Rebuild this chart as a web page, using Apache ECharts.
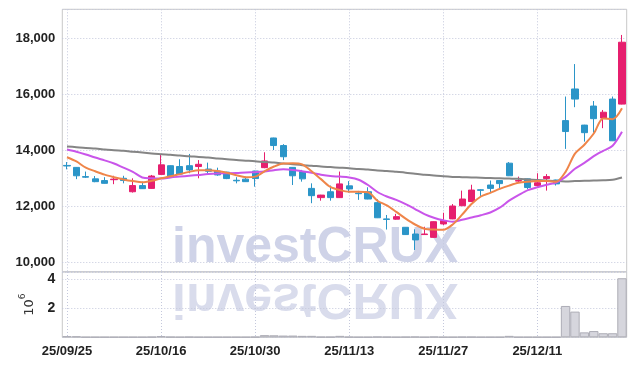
<!DOCTYPE html>
<html><head><meta charset="utf-8">
<script src="https://cdn.jsdelivr.net/npm/echarts@6/dist/echarts.min.js"></script>
<style>html,body{margin:0;padding:0;background:#fff}#c{width:635px;height:366px}</style>
</head><body><div id="c"></div>
<script>
const dates = ['25/09/25','25/09/26','25/09/29','25/09/30','25/10/01','25/10/02','25/10/10','25/10/13','25/10/14','25/10/15',
  '25/10/16','25/10/17','25/10/20','25/10/21','25/10/22','25/10/23','25/10/24','25/10/27','25/10/28','25/10/29',
  '25/10/30','25/10/31','25/11/03','25/11/04','25/11/05','25/11/06','25/11/07','25/11/10','25/11/11','25/11/12',
  '25/11/13','25/11/14','25/11/17','25/11/18','25/11/19','25/11/20','25/11/21','25/11/24','25/11/25','25/11/26',
  '25/11/27','25/11/28','25/12/01','25/12/02','25/12/03','25/12/04','25/12/05','25/12/08','25/12/09','25/12/10',
  '25/12/11','25/12/12','25/12/15','25/12/16','25/12/17','25/12/18','25/12/19','25/12/22','25/12/23','25/12/24'];
const opens = [13460,13390,13060,12980,12920,12950,13000,12520,12740,12640,
  13140,13450,13420,13450,13420,13330,13260,13220,12930,12970,
  13260,13380,14440,14170,13390,13240,12640,12310,12520,12310,
  12730,12470,12520,12130,11550,11540,11250,11010,10990,10890,
  11370,11550,12020,12170,12590,12760,12920,13540,12900,12980,
  12740,12990,12940,15060,16190,14900,15580,15150,15830,15650];
const closes = [13440,13090,13040,12880,12820,12970,12920,12740,12630,13080,
  13480,13040,13150,13300,13500,13250,13120,12990,12910,12880,
  12990,13620,14170,13770,13090,12980,12380,12400,12310,12800,
  12620,12450,12260,11590,11530,11630,10990,10800,11010,11450,
  11490,12010,12260,12580,12570,12640,12810,13090,12920,12670,
  12840,13060,12800,14670,15830,14630,15130,15360,14340,17860];
const lows = [13320,12970,13010,12860,12810,12790,12820,12490,12620,12630,
  13120,13030,13120,13180,13000,13120,13090,12970,12820,12870,
  12700,13360,14010,13650,12760,12880,12110,12200,12200,12300,
  12490,12230,12250,11580,11170,11520,10980,10440,10980,10880,
  11330,11540,12010,12160,12370,12500,12640,13080,12860,12610,
  12700,12560,12740,14050,15540,14310,14630,14790,14330,15640];
const highs = [13580,13400,13240,13080,13040,13090,13090,13000,12880,13120,
  13830,13460,13680,13870,13650,13560,13380,13230,13040,13060,
  13270,13930,14450,14220,13400,13300,12820,12410,12740,13240,
  12900,12550,12680,12250,11690,11730,11260,11180,11270,11460,
  11770,12080,12560,12770,12610,12920,12940,13580,13060,12990,
  13180,13150,12950,15920,17080,14910,15760,15440,15920,18120];
const ma5 = [13750,13600,13380,13250,13130,13040,12960,12900,12860,12910,
  13000,13070,13150,13230,13290,13290,13260,13200,13110,13040,
  13060,13250,13420,13530,13540,13500,13250,12970,12690,12580,
  12520,12520,12500,12200,12030,11800,11560,11350,11200,11170,
  11160,11350,11700,12080,12350,12480,12620,12740,12840,12880,
  12900,12900,12880,13230,13880,14200,14600,15140,15110,15500];
const ma20 = [14030,13950,13850,13740,13640,13530,13380,13230,13030,13000,
  12990,13030,13060,13090,13120,13150,13170,13180,13190,13210,
  13220,13240,13290,13320,13300,13250,13200,13130,13080,13060,
  13030,12950,12760,12510,12350,12230,12080,11900,11720,11590,
  11500,11450,11520,11600,11680,11780,11950,12200,12400,12580,
  12680,12770,12850,13050,13340,13550,13790,13980,14160,14660];
const ma120 = [14140,14110,14080,14060,14030,14000,13980,13950,13920,13890,
  13860,13840,13810,13790,13760,13740,13710,13680,13650,13630,
  13610,13580,13560,13530,13500,13470,13450,13420,13400,13380,
  13360,13330,13310,13280,13260,13230,13200,13160,13130,13100,
  13070,13050,13040,13030,13020,13010,13000,12990,12980,12960,
  12940,12920,12900,12890,12900,12910,12920,12930,12950,13030];
const volumeM = [0.08,0.07,0.02,0.02,0.02,0.02,0.02,0.02,0.02,0.03,
  0.08,0.03,0.02,0.03,0.02,0.02,0.02,0.02,0.02,0.02,
  0.03,0.15,0.14,0.12,0.12,0.10,0.10,0.03,0.03,0.10,
  0.03,0.02,0.02,0.04,0.03,0.02,0.03,0.04,0.02,0.04,
  0.02,0.02,0.03,0.03,0.02,0.02,0.02,0.10,0.02,0.02,
  0.02,0.02,0.02,2.16,1.77,0.34,0.43,0.28,0.28,4.07];

const UP = '#e61f6e', DOWN = '#2b95c8';
const labelFont = "'Liberation Sans', Arial, sans-serif";
const gridLine = {show: true, lineStyle: {color: '#c4c8dc', type: [1, 2], width: 1}};
const candleData = dates.map((d, i) => [opens[i], closes[i], lows[i], highs[i]]);

const chart = echarts.init(document.getElementById('c'), null, {renderer: 'canvas'});
chart.setOption({
  animation: false,
  backgroundColor: '#ffffff',
  grid: [
    {left: 62.3, right: 8.3, top: 9.3, height: 262.4, show: true, borderColor: '#c8c8c8', borderWidth: 1},
    {left: 62.3, right: 8.3, top: 272, height: 65.3, show: true, borderColor: '#c8c8c8', borderWidth: 1}
  ],
  graphic: [
    {type: 'text', z: -10, x: 172, y: 273, style: {text: 'investCRUX', fill: '#cfd3e8', font: "bold 50px 'Liberation Sans', sans-serif", verticalAlign: 'bottom'}},
    {type: 'text', z: -10, x: 172, y: 273, scaleY: -1, style: {text: 'investCRUX', fill: '#d9dcec', font: "bold 50px 'Liberation Sans', sans-serif", verticalAlign: 'bottom'}}
  ],
  xAxis: [
    {type: 'category', gridIndex: 0, data: dates, boundaryGap: true,
     axisLine: {show: false}, axisTick: {show: false}, axisLabel: {show: false},
     splitLine: Object.assign({interval: 9, alignWithLabel: true}, gridLine)},
    {type: 'category', gridIndex: 1, data: dates, boundaryGap: true,
     axisLine: {show: false}, axisTick: {show: false},
     axisLabel: {show: true, interval: 9, color: '#222', fontFamily: labelFont, fontSize: 13, fontWeight: 'bold', margin: 8},
     splitLine: Object.assign({interval: 9, alignWithLabel: true}, gridLine)}
  ],
  yAxis: [
    {type: 'value', gridIndex: 0, min: 9664, max: 19036,
     axisLine: {show: false}, axisTick: {show: false},
     axisLabel: {color: '#222', fontFamily: labelFont, fontSize: 13, fontWeight: 'bold', margin: 7,
       showMinLabel: false, showMaxLabel: false, formatter: v => v.toLocaleString('en-US')},
     splitLine: gridLine},
    {type: 'value', gridIndex: 1, min: 0, max: 4.5, interval: 2,
     name: '{a|10}{b|6}', nameLocation: 'middle', nameRotate: 90, nameGap: 23,
     nameTextStyle: {color: '#333', rich: {
       a: {fontSize: 13, fontFamily: 'DejaVu Sans', lineHeight: 18, verticalAlign: 'bottom', color: '#333'},
       b: {fontSize: 9, fontFamily: 'DejaVu Sans', lineHeight: 18, verticalAlign: 'top', color: '#333'}}},
     axisLine: {show: false}, axisTick: {show: false},
     axisLabel: {color: '#222', fontFamily: labelFont, fontSize: 14, fontWeight: 'bold', margin: 7,
       showMinLabel: false, showMaxLabel: false},
     splitLine: gridLine}
  ],
  series: [
    {type: 'candlestick', xAxisIndex: 0, yAxisIndex: 0, data: candleData, barWidth: '70%',
     itemStyle: {color: UP, color0: DOWN, borderColor: UP, borderColor0: DOWN, borderWidth: 1}},
    {type: 'line', xAxisIndex: 0, yAxisIndex: 0, data: ma120, symbol: 'none', smooth: 0.3,
     lineStyle: {color: '#858585', width: 2}},
    {type: 'line', xAxisIndex: 0, yAxisIndex: 0, data: ma20, symbol: 'none', smooth: 0.3,
     lineStyle: {color: '#c955ea', width: 2}},
    {type: 'line', xAxisIndex: 0, yAxisIndex: 0, data: ma5, symbol: 'none', smooth: 0.3,
     lineStyle: {color: '#ef8549', width: 2}},
    {type: 'bar', xAxisIndex: 1, yAxisIndex: 1, data: volumeM, barCategoryGap: '0%',
     itemStyle: {color: '#d6d6dd', borderColor: '#adadb6', borderWidth: 1}}
  ]
});
</script></body></html>
